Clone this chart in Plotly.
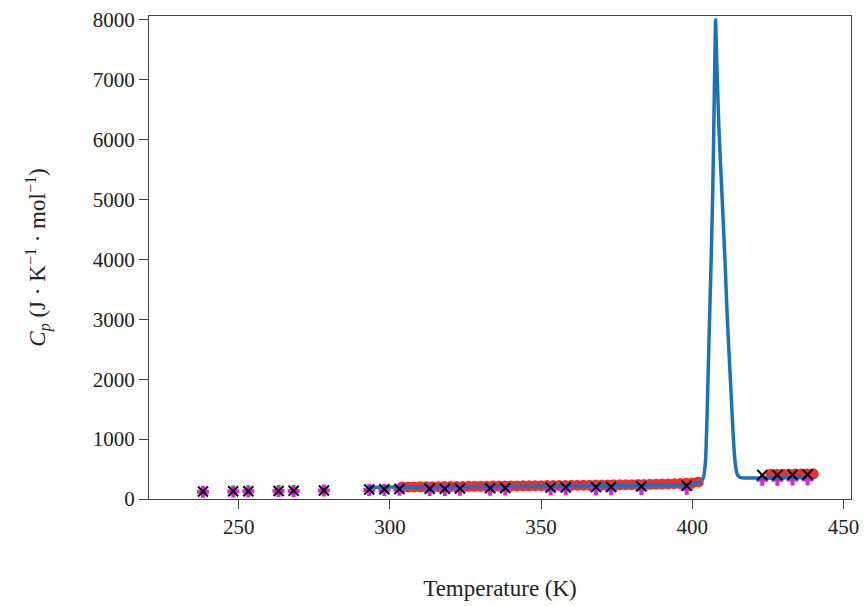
import plotly.graph_objects as go

# Experimental points (black x) and second set (magenta)
exp_T = [238.15, 248.15, 253.15, 263.15, 268.15, 278.15, 293.15, 298.15, 303.15,
         313.15, 318.15, 323.15, 333.15, 338.15, 353.15, 358.15, 368.15, 373.15,
         383.15, 398.15, 423.15, 428.15, 433.15, 438.15]
exp_Cp = [125, 128, 130, 135, 137, 142, 160, 163, 166,
          170, 172, 175, 180, 183, 190, 193, 198, 201,
          208, 222, 400, 402, 404, 408]
mag_Cp = [122, 125, 128, 132, 134, 140, 150, 152, 154,
          150, 152, 154, 156, 158, 160, 162, 160, 162,
          165, 170, 320, 322, 324, 330]

# Dense measured series (red)
red_T = [304, 306, 308, 310, 312, 314, 316, 318, 320, 322, 324, 326, 328, 330,
         332, 334, 336, 338, 340, 342, 344, 346, 348, 350, 352, 354, 356, 358,
         360, 362, 364, 366, 368, 370, 372, 374, 376, 378, 380, 382, 384, 386,
         388, 390, 392, 394, 396, 398, 400, 402,
         426, 428, 430, 432, 434, 436, 438, 440]
red_Cp = [200, 201, 202, 203, 204, 205, 206, 207, 208, 209, 210, 211, 212, 213,
          214, 215, 216, 217, 218, 219, 220, 221, 222, 223, 224, 225, 226, 227,
          228, 229, 230, 231, 232, 233, 234, 236, 237, 239, 240, 242, 244, 246,
          248, 250, 252, 255, 258, 262, 268, 285,
          412, 413, 414, 415, 416, 417, 418, 420]

# Fitted / model curve (blue)
fit_T = [293, 298, 303, 313, 323, 333, 343, 353, 363, 373, 383, 393, 398, 401,
         402.6, 403.7, 404.4, 404.9, 405.5, 406.2, 406.8, 407.3, 407.7, 408.1,
         408.8, 409.9, 410.8, 411.6, 412.6, 413.6, 414.2, 414.8, 415.6, 417.0,
         420, 425, 430, 438]
fit_Cp = [195, 197, 200, 203, 206, 209, 212, 215, 218, 222, 226, 232, 238, 255,
          290, 360, 650, 1400, 2600, 3900, 5200, 6800, 8000, 7300,
          6200, 5000, 4000, 3000, 2000, 1000, 600, 420, 365, 350,
          350, 352, 356, 362]

FONT = "Liberation Serif"

fig = go.Figure()
fig.add_trace(go.Scatter(x=red_T, y=red_Cp, mode="markers",
                         marker=dict(symbol="circle", size=11, color="#f52a2a"),
                         showlegend=False))
fig.add_trace(go.Scatter(x=exp_T, y=mag_Cp, mode="markers",
                         marker=dict(symbol="cross", size=10, color="#dd22dd"),
                         showlegend=False))
fig.add_trace(go.Scatter(x=fit_T, y=fit_Cp, mode="lines",
                         line=dict(color="#1874b8", width=3.5, shape="spline", smoothing=0.3),
                         showlegend=False))
fig.add_trace(go.Scatter(x=exp_T, y=exp_Cp, mode="markers",
                         marker=dict(symbol="x-thin-open", size=10, color="black",
                                     line=dict(color="black", width=2)),
                         showlegend=False))

axis_common = dict(showline=True, linecolor="#444", linewidth=1, mirror=True,
                   ticks="outside", ticklen=9, tickwidth=1, tickcolor="#444",
                   showgrid=False, zeroline=False, automargin=False,
                   tickfont=dict(family=FONT, size=21, color="#222"))

fig.update_layout(
    width=864, height=606,
    margin=dict(l=149, r=13, t=16, b=107),
    plot_bgcolor="white", paper_bgcolor="white",
    xaxis=dict(range=[220.3, 452.5], tickvals=[250, 300, 350, 400, 450],
               title=dict(text="Temperature (K)", standoff=41,
                          font=dict(family=FONT, size=23, color="#222")),
               **axis_common),
    yaxis=dict(range=[0, 8065], tickvals=list(range(0, 8001, 1000)),
               title=dict(text="<i>C</i><sub><i>p</i></sub> (J · K<sup>−1</sup> · mol<sup>−1</sup>)",
                          standoff=40,
                          font=dict(family=FONT, size=23, color="#222")),
               **axis_common),
)

fig.write_html("out.html")
